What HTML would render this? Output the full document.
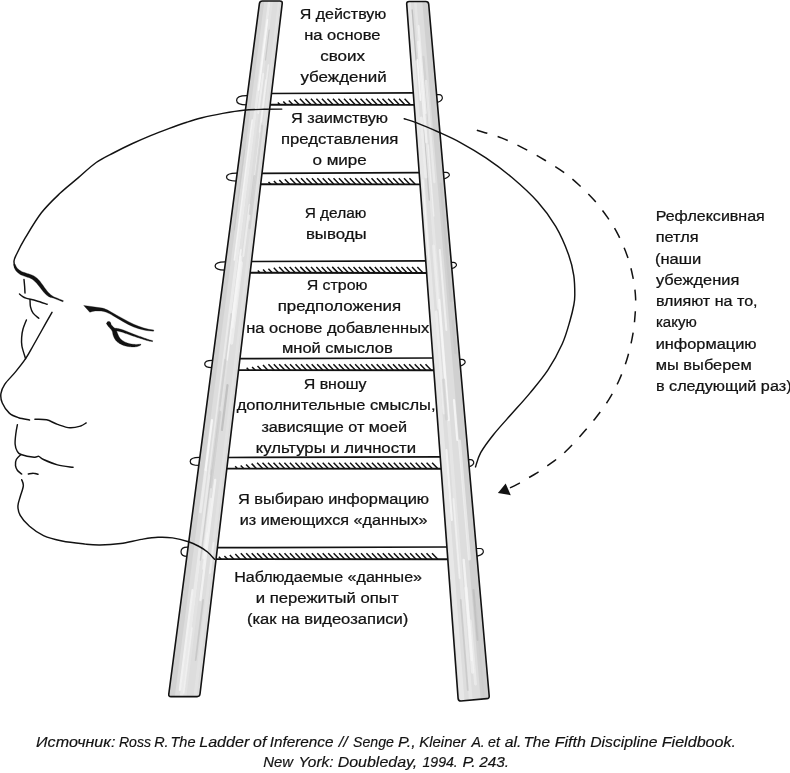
<!DOCTYPE html>
<html lang="ru"><head><meta charset="utf-8"><title>Лестница умозаключений</title>
<style>
html,body{margin:0;padding:0;background:#fff;}
body{width:790px;height:773px;overflow:hidden;}
svg{display:block;will-change:transform;}
.t{font-family:"Liberation Sans",sans-serif;font-size:15.2px;fill:#121212;stroke:#121212;stroke-width:0.24px;}
.c{font-family:"Liberation Sans",sans-serif;font-size:15.2px;font-style:italic;fill:#121212;stroke:#121212;stroke-width:0.18px;}
.ln{fill:none;stroke:#121212;stroke-width:1.45;stroke-linecap:round;stroke-linejoin:round;}
</style></head>
<body>
<svg width="790" height="773" viewBox="0 0 790 773">
<rect width="790" height="773" fill="#fff"/>
<defs><clipPath id="cl"><path d="M262.4 1.0 H279.9 Q282.5 1.0 282.2 3.6 L200.0 694.0 Q199.7 696.6 197.1 696.6 L171.0 696.6 Q168.4 696.6 168.8 694.0 L259.4 3.6 Q259.8 1.0 262.4 1.0 Z"/></clipPath><clipPath id="cr"><path d="M409.1 1.5 H425.8 Q428.4 1.5 428.7 4.1 L489.2 696.0 Q489.4 698.6 486.8 698.6 L460.9 701.0 Q458.3 701.0 458.1 698.4 L406.7 4.1 Q406.5 1.5 409.1 1.5 Z"/></clipPath></defs>
<g id="ladder">
<path class="ln" style="stroke-width:1.25" d="M248.7 95.6 H246.7 C239.4 95.6 236.6 97.2 236.6 100.2 C236.6 103.2 239.4 104.8 246.7 104.8 H248.7"/>
<path class="ln" style="stroke-width:1.25" d="M238.6 173.0 H236.6 C229.3 173.0 226.5 174.4 226.5 177.0 C226.5 179.6 229.3 181.0 236.6 181.0 H238.6"/>
<path class="ln" style="stroke-width:1.25" d="M227.0 261.9 H225.0 C217.9 261.9 215.1 263.3 215.1 266.1 C215.1 268.8 217.9 270.2 225.0 270.2 H227.0"/>
<path class="ln" style="stroke-width:1.25" d="M214.1 360.4 H212.1 C206.8 360.4 204.7 361.6 204.7 364.0 C204.7 366.4 206.8 367.6 212.1 367.6 H214.1"/>
<path class="ln" style="stroke-width:1.25" d="M201.3 457.4 H199.3 C192.7 457.4 190.2 458.8 190.2 461.4 C190.2 464.0 192.7 465.4 199.3 465.4 H201.3"/>
<path class="ln" style="stroke-width:1.25" d="M189.4 547.0 H187.4 C182.8 547.0 181.0 548.6 181.0 551.7 C181.0 554.8 182.8 556.4 187.4 556.4 H189.4"/>
<path class="ln" style="stroke-width:1.2" d="M434.9 94.7 H439.1 C441.5 94.7 442.6 96.5 442.3 98.6 C441.7 100.5 438.8 102.3 434.9 103.1"/>
<path class="ln" style="stroke-width:1.2" d="M441.7 172.4 H446.1 C448.5 172.4 449.6 174.2 449.3 175.6 C448.7 176.9 445.8 178.7 441.7 179.5"/>
<path class="ln" style="stroke-width:1.2" d="M449.5 262.4 H453.2 C455.6 262.4 456.7 264.2 456.4 265.5 C455.8 266.7 452.9 268.5 449.5 269.3"/>
<path class="ln" style="stroke-width:1.2" d="M458.0 359.4 H461.9 C464.3 359.4 465.4 361.2 465.1 362.8 C464.5 364.1 461.6 365.9 458.0 366.7"/>
<path class="ln" style="stroke-width:1.2" d="M466.8 459.7 H470.5 C472.9 459.7 474.0 461.5 473.7 463.3 C473.1 464.9 470.2 466.7 466.8 467.5"/>
<path class="ln" style="stroke-width:1.2" d="M474.6 548.5 H480.1 C482.5 548.5 483.6 550.3 483.3 552.2 C482.7 554.0 479.8 555.8 474.6 556.6"/>
<path d="M269.8 93.5 L414.7 92.8" stroke="#121212" stroke-width="1.7" fill="none"/>
<path d="M269.8 104.7 L414.7 104.9" stroke="#121212" stroke-width="1.9" fill="none"/>
<path d="M277.8 102.4 L280.1 104.8 M283.3 101.5 L286.5 104.8 M288.8 100.6 L292.9 104.8 M294.3 99.7 L299.3 104.8 M299.9 98.8 L305.7 104.8 M305.4 98.8 L311.2 104.8 M310.9 98.8 L316.7 104.8 M316.4 98.8 L322.2 104.8 M321.9 98.8 L327.7 104.8 M327.4 98.8 L333.2 104.8 M332.9 98.8 L338.8 104.8 M338.4 98.8 L344.3 104.8 M344.0 98.8 L349.8 104.8 M349.5 98.8 L355.3 104.8 M355.0 98.8 L360.8 104.8 M360.5 98.8 L366.3 104.8 M366.0 98.8 L371.8 104.8 M371.5 98.8 L377.3 104.8 M377.0 98.8 L382.9 104.8 M382.5 98.8 L388.4 104.8 M388.1 98.8 L393.9 104.8 M393.6 98.8 L399.4 104.8 M399.1 98.8 L404.9 104.8 M404.6 98.8 L410.4 104.8" stroke="#121212" stroke-width="1.5" fill="none"/>
<path d="M260.3 173.3 L420.6 172.6" stroke="#121212" stroke-width="1.7" fill="none"/>
<path d="M260.3 184.2 L420.6 184.4" stroke="#121212" stroke-width="1.9" fill="none"/>
<path d="M268.5 181.9 L270.8 184.3 M273.9 181.0 L277.1 184.3 M279.3 180.1 L283.4 184.3 M284.8 179.2 L289.7 184.3 M290.2 178.3 L296.0 184.3 M295.6 178.3 L301.4 184.3 M301.0 178.3 L306.8 184.3 M306.4 178.3 L312.3 184.3 M311.9 178.3 L317.7 184.3 M317.3 178.3 L323.1 184.3 M322.7 178.3 L328.5 184.3 M328.1 178.3 L333.9 184.3 M333.5 178.3 L339.4 184.3 M338.9 178.3 L344.8 184.3 M344.4 178.3 L350.2 184.3 M349.8 178.3 L355.6 184.3 M355.2 178.3 L361.0 184.3 M360.6 178.3 L366.4 184.3 M366.0 178.3 L371.9 184.3 M371.5 178.3 L377.3 184.3 M376.9 178.3 L382.7 184.3 M382.3 178.3 L388.1 184.3 M387.7 178.3 L393.5 184.3 M393.1 178.3 L399.0 184.3 M398.6 178.3 L404.4 184.3 M404.0 178.3 L409.8 184.3 M409.4 178.3 L415.2 184.3" stroke="#121212" stroke-width="1.5" fill="none"/>
<path d="M249.8 261.5 L427.2 260.8" stroke="#121212" stroke-width="1.7" fill="none"/>
<path d="M249.8 272.8 L427.2 273.0" stroke="#121212" stroke-width="1.9" fill="none"/>
<path d="M257.8 270.5 L260.1 272.9 M263.1 269.6 L266.3 272.9 M268.4 268.7 L272.5 272.9 M273.8 267.8 L278.7 272.9 M279.1 266.9 L284.9 272.9 M284.4 266.9 L290.2 272.9 M289.7 266.9 L295.5 272.9 M295.0 266.9 L300.8 272.9 M300.3 266.9 L306.2 272.9 M305.6 266.9 L311.5 272.9 M311.0 266.9 L316.8 272.9 M316.3 266.9 L322.1 272.9 M321.6 266.9 L327.4 272.9 M326.9 266.9 L332.7 272.9 M332.2 266.9 L338.1 272.9 M337.6 266.9 L343.4 272.9 M342.9 266.9 L348.7 272.9 M348.2 266.9 L354.0 272.9 M353.5 266.9 L359.3 272.9 M358.8 266.9 L364.6 272.9 M364.1 266.9 L370.0 272.9 M369.4 266.9 L375.3 272.9 M374.8 266.9 L380.6 272.9 M380.1 266.9 L385.9 272.9 M385.4 266.9 L391.2 272.9 M390.7 266.9 L396.5 272.9 M396.0 266.9 L401.9 272.9 M401.4 266.9 L407.2 272.9 M406.7 266.9 L412.5 272.9 M412.0 266.9 L417.8 272.9 M417.3 266.9 L423.1 272.9" stroke="#121212" stroke-width="1.5" fill="none"/>
<path d="M238.2 358.7 L434.4 358.0" stroke="#121212" stroke-width="1.7" fill="none"/>
<path d="M238.2 370.1 L434.4 370.3" stroke="#121212" stroke-width="1.9" fill="none"/>
<path d="M246.7 367.8 L249.0 370.2 M252.1 366.9 L255.3 370.2 M257.5 366.0 L261.6 370.2 M263.0 365.1 L267.9 370.2 M268.4 364.2 L274.2 370.2 M273.8 364.2 L279.6 370.2 M279.2 364.2 L285.0 370.2 M284.6 364.2 L290.4 370.2 M290.0 364.2 L295.9 370.2 M295.5 364.2 L301.3 370.2 M300.9 364.2 L306.7 370.2 M306.3 364.2 L312.1 370.2 M311.7 364.2 L317.5 370.2 M317.1 364.2 L323.0 370.2 M322.6 364.2 L328.4 370.2 M328.0 364.2 L333.8 370.2 M333.4 364.2 L339.2 370.2 M338.8 364.2 L344.6 370.2 M344.2 364.2 L350.0 370.2 M349.6 364.2 L355.5 370.2 M355.1 364.2 L360.9 370.2 M360.5 364.2 L366.3 370.2 M365.9 364.2 L371.7 370.2 M371.3 364.2 L377.1 370.2 M376.7 364.2 L382.6 370.2 M382.2 364.2 L388.0 370.2 M387.6 364.2 L393.4 370.2 M393.0 364.2 L398.8 370.2 M398.4 364.2 L404.2 370.2 M403.8 364.2 L409.6 370.2 M409.2 364.2 L415.1 370.2 M414.7 364.2 L420.5 370.2 M420.1 364.2 L425.9 370.2 M425.5 364.2 L431.3 370.2" stroke="#121212" stroke-width="1.5" fill="none"/>
<path d="M226.5 457.5 L441.7 456.8" stroke="#121212" stroke-width="1.7" fill="none"/>
<path d="M226.5 468.6 L441.7 468.8" stroke="#121212" stroke-width="1.9" fill="none"/>
<path d="M235.2 466.3 L237.5 468.7 M240.7 465.4 L243.9 468.7 M246.1 464.5 L250.2 468.7 M251.6 463.6 L256.6 468.7 M257.1 462.7 L262.9 468.7 M262.5 462.7 L268.4 468.7 M268.0 462.7 L273.8 468.7 M273.5 462.7 L279.3 468.7 M279.0 462.7 L284.8 468.7 M284.4 462.7 L290.2 468.7 M289.9 462.7 L295.7 468.7 M295.4 462.7 L301.2 468.7 M300.8 462.7 L306.7 468.7 M306.3 462.7 L312.1 468.7 M311.8 462.7 L317.6 468.7 M317.2 462.7 L323.1 468.7 M322.7 462.7 L328.5 468.7 M328.2 462.7 L334.0 468.7 M333.6 462.7 L339.5 468.7 M339.1 462.7 L344.9 468.7 M344.6 462.7 L350.4 468.7 M350.1 462.7 L355.9 468.7 M355.5 462.7 L361.3 468.7 M361.0 462.7 L366.8 468.7 M366.5 462.7 L372.3 468.7 M371.9 462.7 L377.8 468.7 M377.4 462.7 L383.2 468.7 M382.9 462.7 L388.7 468.7 M388.3 462.7 L394.2 468.7 M393.8 462.7 L399.6 468.7 M399.3 462.7 L405.1 468.7 M404.8 462.7 L410.6 468.7 M410.2 462.7 L416.0 468.7 M415.7 462.7 L421.5 468.7 M421.2 462.7 L427.0 468.7 M426.6 462.7 L432.5 468.7 M432.1 462.7 L437.9 468.7" stroke="#121212" stroke-width="1.5" fill="none"/>
<path d="M215.8 547.7 L448.3 547.0" stroke="#121212" stroke-width="1.7" fill="none"/>
<path d="M215.8 559.1 L448.3 559.3" stroke="#121212" stroke-width="1.9" fill="none"/>
<path d="M218.9 556.8 L221.2 559.2 M224.4 555.9 L227.6 559.2 M229.8 555.0 L233.9 559.2 M235.3 554.1 L240.2 559.2 M240.8 553.2 L246.6 559.2 M246.2 553.2 L252.0 559.2 M251.7 553.2 L257.5 559.2 M257.1 553.2 L263.0 559.2 M262.6 553.2 L268.4 559.2 M268.1 553.2 L273.9 559.2 M273.5 553.2 L279.4 559.2 M279.0 553.2 L284.8 559.2 M284.5 553.2 L290.3 559.2 M289.9 553.2 L295.8 559.2 M295.4 553.2 L301.2 559.2 M300.9 553.2 L306.7 559.2 M306.3 553.2 L312.1 559.2 M311.8 553.2 L317.6 559.2 M317.3 553.2 L323.1 559.2 M322.7 553.2 L328.5 559.2 M328.2 553.2 L334.0 559.2 M333.6 553.2 L339.5 559.2 M339.1 553.2 L344.9 559.2 M344.6 553.2 L350.4 559.2 M350.0 553.2 L355.9 559.2 M355.5 553.2 L361.3 559.2 M361.0 553.2 L366.8 559.2 M366.4 553.2 L372.3 559.2 M371.9 553.2 L377.7 559.2 M377.4 553.2 L383.2 559.2 M382.8 553.2 L388.6 559.2 M388.3 553.2 L394.1 559.2 M393.8 553.2 L399.6 559.2 M399.2 553.2 L405.0 559.2 M404.7 553.2 L410.5 559.2 M410.1 553.2 L416.0 559.2 M415.6 553.2 L421.4 559.2 M421.1 553.2 L426.9 559.2 M426.5 553.2 L432.4 559.2 M432.0 553.2 L437.8 559.2" stroke="#121212" stroke-width="1.5" fill="none"/>
<path d="M262.4 1.0 H279.9 Q282.5 1.0 282.2 3.6 L200.0 694.0 Q199.7 696.6 197.1 696.6 L171.0 696.6 Q168.4 696.6 168.8 694.0 L259.4 3.6 Q259.8 1.0 262.4 1.0 Z" fill="#dddddd"/>
<g clip-path="url(#cl)">
<path d="M259.9 0 L264.4 0 L174.3 700 L168.0 700 Z" fill="#d0d0d0" opacity="0.9"/>
<path d="M268.1 0 L270.8 0 L183.0 700 L179.3 700 Z" fill="#ebebeb" opacity="0.9"/>
<path d="M270.8 0 L273.1 0 L186.1 700 L183.0 700 Z" fill="#e2e2e2" opacity="0.9"/>
<path d="M278.1 0 L280.3 0 L196.2 700 L193.0 700 Z" fill="#e4e4e4" opacity="0.8"/>
<path d="M267.4 20 L258.6 90" stroke="#f8f8f8" stroke-width="1.8" stroke-linecap="round" opacity="0.85" fill="none"/>
<path d="M252.2 120 L234.4 260" stroke="#f6f6f6" stroke-width="1.7" stroke-linecap="round" opacity="0.85" fill="none"/>
<path d="M227.5 385 L221.9 430" stroke="#bcbcbc" stroke-width="2.2" stroke-linecap="round" opacity="0.85" fill="none"/>
<path d="M212.0 420 L205.6 470" stroke="#fafafa" stroke-width="2.2" stroke-linecap="round" opacity="0.85" fill="none"/>
<path d="M240.9 250 L227.1 360" stroke="#f6f6f6" stroke-width="1.8" stroke-linecap="round" opacity="0.85" fill="none"/>
<path d="M211.7 470 L200.4 560" stroke="#c8c8c8" stroke-width="1.4" stroke-linecap="round" opacity="0.85" fill="none"/>
<path d="M215.2 480 L200.4 600" stroke="#f4f4f4" stroke-width="2.3" stroke-linecap="round" opacity="0.85" fill="none"/>
<path d="M192.5 590 L179.8 690" stroke="#f4f4f4" stroke-width="2.1" stroke-linecap="round" opacity="0.85" fill="none"/>
<path d="M269.2 30 L265.5 60" stroke="#c4c4c4" stroke-width="1.2" stroke-linecap="round" opacity="0.85" fill="none"/>
<path d="M203.1 600 L195.7 660" stroke="#c6c6c6" stroke-width="1.8" stroke-linecap="round" opacity="0.85" fill="none"/>
<path d="M244.5 150 L234.2 230" stroke="#c8c8c8" stroke-width="1.2" stroke-linecap="round" opacity="0.85" fill="none"/>
<path d="M260.6 130 L249.6 220" stroke="#f2f2f2" stroke-width="1.5" stroke-linecap="round" opacity="0.85" fill="none"/>
<path d="M225.2 360 L210.9 474" stroke="#cccccc" stroke-width="2.3" stroke-linecap="round" opacity="0.6" fill="none"/>
<path d="M262.1 126 L249.6 228" stroke="#cccccc" stroke-width="2.4" stroke-linecap="round" opacity="0.6" fill="none"/>
<path d="M268.4 65 L261.4 122" stroke="#f7f7f7" stroke-width="1.6" stroke-linecap="round" opacity="0.6" fill="none"/>
<path d="M241.0 257 L232.2 327" stroke="#f7f7f7" stroke-width="2.9" stroke-linecap="round" opacity="0.6" fill="none"/>
<path d="M207.3 533 L202.8 569" stroke="#f7f7f7" stroke-width="1.5" stroke-linecap="round" opacity="0.6" fill="none"/>
<path d="M211.0 499 L203.6 558" stroke="#f7f7f7" stroke-width="2.6" stroke-linecap="round" opacity="0.6" fill="none"/>
<path d="M220.1 412 L210.8 487" stroke="#c6c6c6" stroke-width="2.7" stroke-linecap="round" opacity="0.6" fill="none"/>
<path d="M241.3 263 L231.5 343" stroke="#f7f7f7" stroke-width="3.3" stroke-linecap="round" opacity="0.6" fill="none"/>
<path d="M249.6 205 L243.3 256" stroke="#f7f7f7" stroke-width="2.0" stroke-linecap="round" opacity="0.6" fill="none"/>
<path d="M263.2 74 L258.2 113" stroke="#f7f7f7" stroke-width="2.0" stroke-linecap="round" opacity="0.6" fill="none"/>
<path d="M213.5 543 L209.9 573" stroke="#f7f7f7" stroke-width="1.8" stroke-linecap="round" opacity="0.6" fill="none"/>
<path d="M192.0 628 L183.8 693" stroke="#f7f7f7" stroke-width="1.5" stroke-linecap="round" opacity="0.6" fill="none"/>
<path d="M254.4 176 L249.8 214" stroke="#c6c6c6" stroke-width="2.1" stroke-linecap="round" opacity="0.6" fill="none"/>
<path d="M265.9 80 L259.5 132" stroke="#f7f7f7" stroke-width="1.6" stroke-linecap="round" opacity="0.6" fill="none"/>
<path d="M231.2 314 L219.8 406" stroke="#cccccc" stroke-width="1.8" stroke-linecap="round" opacity="0.6" fill="none"/>
<path d="M205.8 470 L200.4 512" stroke="#f7f7f7" stroke-width="2.7" stroke-linecap="round" opacity="0.6" fill="none"/>
</g>
<path d="M262.4 1.0 H279.9 Q282.5 1.0 282.2 3.6 L200.0 694.0 Q199.7 696.6 197.1 696.6 L171.0 696.6 Q168.4 696.6 168.8 694.0 L259.4 3.6 Q259.8 1.0 262.4 1.0 Z" fill="none" stroke="#121212" stroke-width="1.6" stroke-linejoin="round"/>
<path d="M409.1 1.5 H425.8 Q428.4 1.5 428.7 4.1 L489.2 696.0 Q489.4 698.6 486.8 698.6 L460.9 701.0 Q458.3 701.0 458.1 698.4 L406.7 4.1 Q406.5 1.5 409.1 1.5 Z" fill="#dddddd"/>
<g clip-path="url(#cr)">
<path d="M407.5 0 L410.8 0 L464.6 702 L459.9 702 Z" fill="#e8e8e8" opacity="0.9"/>
<path d="M413.8 0 L416.5 0 L472.8 702 L469.0 702 Z" fill="#e6e6e6" opacity="0.9"/>
<path d="M422.2 0 L428.3 0 L489.7 702 L480.9 702 Z" fill="#cecece" opacity="0.9"/>
<path d="M412.2 10 L416.1 60" stroke="#b8b8b8" stroke-width="1.3" stroke-linecap="round" opacity="0.85" fill="none"/>
<path d="M417.4 60 L420.5 100" stroke="#f8f8f8" stroke-width="1.8" stroke-linecap="round" opacity="0.85" fill="none"/>
<path d="M423.8 130 L429.3 200" stroke="#c2c2c2" stroke-width="1.4" stroke-linecap="round" opacity="0.85" fill="none"/>
<path d="M439.1 300 L448.6 420" stroke="#f8f8f8" stroke-width="2.3" stroke-linecap="round" opacity="0.85" fill="none"/>
<path d="M439.8 250 L446.4 330" stroke="#f2f2f2" stroke-width="2.0" stroke-linecap="round" opacity="0.85" fill="none"/>
<path d="M454.0 400 L457.3 440" stroke="#f8f8f8" stroke-width="2.2" stroke-linecap="round" opacity="0.85" fill="none"/>
<path d="M446.4 450 L451.8 520" stroke="#f6f6f6" stroke-width="2.2" stroke-linecap="round" opacity="0.85" fill="none"/>
<path d="M463.7 560 L471.9 660" stroke="#f6f6f6" stroke-width="2.4" stroke-linecap="round" opacity="0.85" fill="none"/>
<path d="M473.5 590 L477.7 640" stroke="#bebebe" stroke-width="2.1" stroke-linecap="round" opacity="0.85" fill="none"/>
<path d="M460.7 600 L467.8 690" stroke="#c8c8c8" stroke-width="1.8" stroke-linecap="round" opacity="0.85" fill="none"/>
<path d="M422.9 180 L428.9 260" stroke="#f4f4f4" stroke-width="1.5" stroke-linecap="round" opacity="0.85" fill="none"/>
<path d="M476.1 607 L485.5 718" stroke="#cccccc" stroke-width="1.6" stroke-linecap="round" opacity="0.6" fill="none"/>
<path d="M433.5 246 L438.4 308" stroke="#f2f2f2" stroke-width="2.9" stroke-linecap="round" opacity="0.6" fill="none"/>
<path d="M428.1 145 L433.8 216" stroke="#f7f7f7" stroke-width="1.4" stroke-linecap="round" opacity="0.6" fill="none"/>
<path d="M452.9 321 L455.6 353" stroke="#c6c6c6" stroke-width="2.7" stroke-linecap="round" opacity="0.6" fill="none"/>
<path d="M418.3 42 L426.3 142" stroke="#f7f7f7" stroke-width="2.6" stroke-linecap="round" opacity="0.6" fill="none"/>
<path d="M470.3 621 L475.5 684" stroke="#f2f2f2" stroke-width="2.9" stroke-linecap="round" opacity="0.6" fill="none"/>
<path d="M440.9 184 L450.9 301" stroke="#c6c6c6" stroke-width="2.5" stroke-linecap="round" opacity="0.6" fill="none"/>
<path d="M436.1 312 L444.0 413" stroke="#f7f7f7" stroke-width="2.8" stroke-linecap="round" opacity="0.6" fill="none"/>
<path d="M421.2 118 L425.8 177" stroke="#f7f7f7" stroke-width="3.0" stroke-linecap="round" opacity="0.6" fill="none"/>
<path d="M423.4 57 L429.0 126" stroke="#cccccc" stroke-width="2.5" stroke-linecap="round" opacity="0.6" fill="none"/>
<path d="M443.5 380 L446.6 419" stroke="#cccccc" stroke-width="3.2" stroke-linecap="round" opacity="0.6" fill="none"/>
<path d="M453.4 499 L459.6 578" stroke="#f7f7f7" stroke-width="1.9" stroke-linecap="round" opacity="0.6" fill="none"/>
<path d="M426.0 81 L434.3 182" stroke="#f2f2f2" stroke-width="2.4" stroke-linecap="round" opacity="0.6" fill="none"/>
<path d="M465.9 588 L472.7 672" stroke="#f7f7f7" stroke-width="3.3" stroke-linecap="round" opacity="0.6" fill="none"/>
<path d="M418.6 26 L425.6 113" stroke="#f7f7f7" stroke-width="2.2" stroke-linecap="round" opacity="0.6" fill="none"/>
<path d="M459.5 441 L469.4 559" stroke="#f7f7f7" stroke-width="3.0" stroke-linecap="round" opacity="0.6" fill="none"/>
</g>
<path d="M409.1 1.5 H425.8 Q428.4 1.5 428.7 4.1 L489.2 696.0 Q489.4 698.6 486.8 698.6 L460.9 701.0 Q458.3 701.0 458.1 698.4 L406.7 4.1 Q406.5 1.5 409.1 1.5 Z" fill="none" stroke="#121212" stroke-width="1.6" stroke-linejoin="round"/>
</g>
<g id="head">
<path class="ln" d="M281.8 109.1 C278.9 109.1 270.6 109.1 264.2 109.3 C257.8 109.5 250.4 109.6 243.5 110.3 C236.6 111.0 229.7 112.2 222.8 113.4 C215.9 114.7 208.1 116.3 202.1 117.8 C196.1 119.3 192.4 120.5 186.8 122.3 C181.2 124.1 174.7 126.4 168.7 128.6 C162.7 130.8 156.6 133.1 150.6 135.6 C144.6 138.1 138.6 140.7 132.5 143.5 C126.5 146.3 120.3 149.3 114.3 152.5 C108.2 155.7 102.2 158.3 96.2 162.5 C90.2 166.7 84.1 172.8 78.1 177.9 C72.1 183.0 66.1 187.5 60.0 193.3 C53.9 199.1 47.3 205.2 41.4 212.8 C35.5 220.4 29.0 231.7 24.8 238.7 C20.6 245.7 18.1 251.1 16.3 254.8 C14.5 258.5 14.2 258.9 14.0 261.0 C13.8 263.1 14.7 266.2 14.8 267.3"/>
<path class="ln" d="M24.0 279.5 C24.1 280.6 24.4 283.8 24.6 286.0 C24.8 288.2 24.9 291.8 25.0 293.0"/>
<path class="ln" d="M19.5 294.0 C20.0 294.4 21.4 295.7 22.5 296.4 C23.6 297.1 23.6 297.4 25.9 298.1 C28.2 298.8 32.7 299.7 36.2 300.7 C39.7 301.7 45.3 303.7 47.1 304.3"/>
<path class="ln" d="M30.0 299.7 C30.1 300.9 30.0 304.7 30.5 306.9 C31.0 309.1 31.7 311.2 33.1 313.1 C34.5 315.0 37.8 317.4 38.8 318.3"/>
<path class="ln" d="M26.4 320.0 C25.8 321.5 23.8 326.2 23.0 329.0 C22.2 331.8 21.9 334.2 21.7 337.0 C21.5 339.8 21.2 342.4 21.9 346.0 C22.5 349.6 25.0 356.6 25.6 358.7"/>
<path class="ln" d="M52.0 312.3 C50.3 315.2 45.2 324.4 42.0 330.0 C38.8 335.6 35.7 341.2 33.0 346.0 C30.3 350.8 28.5 354.4 25.6 358.7 C22.7 363.0 19.0 367.6 15.5 371.9 C12.0 376.2 7.1 380.7 4.7 384.3 C2.3 387.9 1.3 390.6 0.9 393.7 C0.5 396.8 0.9 399.8 2.3 403.0 C3.7 406.2 6.6 410.7 9.3 413.1 C12.0 415.6 15.2 416.6 18.6 417.7 C22.0 418.8 27.7 419.6 29.5 420.0"/>
<path class="ln" d="M34.9 419.3 C36.9 419.4 42.8 419.0 46.6 419.8 C50.4 420.6 53.6 423.1 57.5 424.4 C61.4 425.7 66.0 427.5 69.9 427.8 C73.8 428.1 78.0 426.8 80.7 426.0 C83.4 425.2 85.3 423.4 86.2 422.9"/>
<path class="ln" d="M17.4 424.7 C17.1 426.2 16.2 430.8 15.8 434.0 C15.4 437.2 14.9 441.2 15.1 444.0 C15.3 446.8 16.1 449.2 17.1 451.0 C18.1 452.8 18.1 453.5 21.0 454.5 C23.9 455.5 31.2 456.9 34.2 457.2 C37.2 457.5 37.2 456.0 38.8 456.4 C40.3 456.8 40.4 458.1 43.5 459.5 C46.6 460.9 52.6 463.6 57.5 464.9 C62.4 466.2 70.4 466.9 73.0 467.3"/>
<path class="ln" d="M21.0 454.5 C20.2 455.3 17.2 457.6 16.3 459.5 C15.4 461.4 15.3 463.9 15.5 465.7 C15.7 467.5 16.5 469.1 17.5 470.5 C18.5 471.9 21.0 473.4 21.7 474.0"/>
<path class="ln" d="M28.3 474.0 C29.1 473.9 31.8 473.1 33.4 473.2 C35.0 473.2 37.2 474.1 38.0 474.3"/>
<path class="ln" d="M21.7 479.7 C22.0 480.7 23.6 483.0 23.3 485.9 C23.1 488.8 21.1 493.4 20.2 496.8 C19.3 500.2 17.9 503.0 17.9 506.1 C17.9 509.2 18.3 512.0 20.2 515.4 C22.1 518.8 25.6 522.9 29.5 526.3 C33.4 529.7 38.1 533.1 43.5 535.6 C48.9 538.1 55.1 539.6 62.1 541.0 C69.1 542.4 79.1 543.4 85.4 544.1 C91.7 544.8 94.1 545.1 100.0 545.0 C105.9 544.9 113.8 544.4 120.7 543.5 C127.6 542.6 135.2 540.4 141.4 539.4 C147.6 538.4 152.8 537.5 158.0 537.3 C163.2 537.0 167.4 537.2 172.5 537.9 C177.6 538.6 184.1 540.3 188.5 541.7 C192.9 543.1 196.0 544.8 199.2 546.5 C202.4 548.2 204.9 549.9 207.5 552.0 C210.1 554.1 213.4 558.1 214.6 559.3"/>
<path class="ln" d="M404.2 118.7 C406.3 119.4 410.9 120.6 416.8 122.9 C422.7 125.2 432.3 129.3 439.5 132.5 C446.7 135.7 452.3 138.1 460.0 142.3 C467.7 146.5 477.3 152.1 485.9 157.9 C494.5 163.7 503.1 170.0 511.7 177.3 C520.3 184.6 530.3 193.6 537.6 201.8 C544.9 210.0 550.5 217.6 555.7 226.4 C560.9 235.2 565.7 246.7 568.7 254.9 C571.7 263.1 572.8 268.9 573.8 275.6 C574.8 282.3 574.8 290.1 574.8 295.0 C574.8 299.9 574.6 300.7 573.8 305.0 C573.0 309.3 571.9 314.2 570.0 320.7 C568.1 327.2 565.9 335.8 562.2 344.0 C558.5 352.2 553.4 361.7 548.0 369.9 C542.6 378.1 535.9 385.8 529.9 393.1 C523.9 400.4 517.8 406.9 511.7 413.8 C505.6 420.7 498.8 428.0 493.6 434.5 C488.4 441.0 483.7 447.3 480.7 452.7 C477.7 458.1 476.4 464.5 475.5 466.9"/>
<path d="M476.8 130.2 C480.9 131.5 493.4 134.8 501.4 137.9 C509.4 141.0 517.4 145.0 524.7 148.8 C532.0 152.6 538.9 156.6 545.4 160.5 C551.9 164.4 557.9 168.0 563.5 172.1 C569.1 176.2 573.8 180.2 579.0 185.0 C584.2 189.8 589.8 195.2 594.5 200.6 C599.2 206.0 603.6 211.8 607.5 217.4 C611.4 223.0 614.6 227.9 617.8 234.2 C621.0 240.4 624.4 248.0 626.9 254.9 C629.4 261.8 631.1 268.4 632.6 275.6 C634.1 282.8 635.3 290.5 635.6 298.0 C635.9 305.5 635.2 313.9 634.6 320.7 C634.0 327.5 633.3 332.3 632.0 338.8 C630.7 345.3 629.0 352.6 626.9 359.5 C624.8 366.4 622.1 373.5 619.1 380.2 C616.1 386.9 612.7 393.4 608.8 399.6 C604.9 405.9 600.3 411.9 595.8 417.7 C591.3 423.5 586.5 428.9 581.6 434.5 C576.7 440.1 570.7 446.6 566.1 451.0 C561.5 455.4 557.8 458.2 554.3 460.9 C550.8 463.6 548.3 465.1 545.4 467.2 C542.5 469.2 539.6 471.3 536.6 473.2 C533.6 475.1 530.3 476.8 527.1 478.6 C523.9 480.4 520.9 482.4 517.6 484.1 C514.3 485.8 509.2 488.2 507.5 489.0" fill="none" stroke="#121212" stroke-width="1.5" stroke-dasharray="11 10.65"/>
<path d="M497.9 493.0 L505.7 483.6 L510.8 495.2 Z" fill="#121212"/>
<path d="M13.64 264.44 L13.73 264.82 L13.83 265.34 L13.95 265.97 L14.10 266.69 L14.30 267.46 L14.54 268.25 L14.85 269.03 L15.25 269.76 L15.70 270.42 L16.20 271.04 L16.74 271.64 L17.32 272.22 L17.93 272.76 L18.56 273.28 L19.20 273.76 L19.86 274.22 L20.55 274.64 L21.28 275.00 L22.01 275.32 L22.73 275.60 L23.44 275.85 L24.12 276.09 L24.78 276.31 L25.42 276.55 L26.08 276.79 L26.76 277.02 L27.42 277.23 L28.06 277.43 L28.66 277.62 L29.23 277.82 L29.76 278.02 L30.27 278.24 L30.76 278.49 L31.24 278.75 L31.71 279.01 L32.15 279.29 L32.59 279.58 L33.01 279.87 L33.42 280.18 L33.83 280.49 L34.21 280.82 L34.59 281.15 L34.96 281.51 L35.33 281.88 L35.70 282.27 L36.08 282.68 L36.47 283.11 L36.87 283.55 L37.25 283.99 L37.64 284.45 L38.04 284.93 L38.44 285.43 L38.85 285.94 L39.26 286.46 L39.66 286.98 L40.07 287.49 L40.45 287.98 L40.83 288.47 L41.22 288.98 L41.60 289.48 L41.99 289.99 L42.38 290.49 L42.77 290.98 L43.17 291.46 L43.57 291.93 L43.97 292.38 L44.37 292.84 L44.77 293.28 L45.18 293.72 L45.59 294.14 L46.01 294.54 L46.43 294.92 L46.86 295.28 L47.28 295.61 L47.69 295.92 L48.11 296.20 L48.52 296.46 L48.92 296.70 L49.32 296.91 L49.72 297.11 L50.11 297.27 L50.47 297.39 L50.82 297.48 L51.17 297.54 L51.51 297.60 L51.86 297.67 L52.26 297.76 L52.71 297.89 L53.24 298.07 L53.82 298.28 L54.44 298.52 L55.09 298.77 L55.76 299.03 L56.44 299.29 L57.11 299.55 L57.76 299.80 L58.44 300.07 L59.17 300.35 L59.93 300.65 L60.68 300.95 L61.39 301.23 L62.03 301.48 L62.57 301.70 L62.98 301.86 L63.42 300.74 L63.02 300.58 L62.49 300.36 L61.85 300.09 L61.14 299.80 L60.40 299.49 L59.64 299.18 L58.92 298.88 L58.24 298.60 L57.59 298.33 L56.92 298.06 L56.25 297.79 L55.58 297.52 L54.94 297.26 L54.34 297.00 L53.78 296.75 L53.29 296.51 L52.87 296.28 L52.51 296.07 L52.22 295.87 L51.97 295.68 L51.76 295.50 L51.56 295.31 L51.34 295.11 L51.08 294.89 L50.78 294.65 L50.47 294.40 L50.16 294.14 L49.84 293.87 L49.52 293.60 L49.20 293.31 L48.88 293.00 L48.57 292.68 L48.25 292.33 L47.92 291.96 L47.58 291.56 L47.24 291.14 L46.89 290.71 L46.54 290.26 L46.18 289.80 L45.83 289.34 L45.48 288.87 L45.13 288.40 L44.78 287.91 L44.43 287.41 L44.06 286.89 L43.69 286.37 L43.32 285.84 L42.93 285.31 L42.56 284.79 L42.18 284.27 L41.79 283.73 L41.39 283.18 L40.99 282.63 L40.58 282.09 L40.16 281.56 L39.73 281.05 L39.32 280.58 L38.91 280.12 L38.50 279.66 L38.07 279.21 L37.63 278.77 L37.16 278.33 L36.68 277.91 L36.17 277.51 L35.66 277.13 L35.14 276.77 L34.60 276.43 L34.06 276.11 L33.50 275.80 L32.93 275.51 L32.35 275.23 L31.73 274.96 L31.09 274.69 L30.42 274.45 L29.76 274.24 L29.11 274.04 L28.46 273.84 L27.83 273.65 L27.21 273.46 L26.58 273.25 L25.91 273.02 L25.23 272.80 L24.55 272.58 L23.89 272.36 L23.26 272.14 L22.66 271.91 L22.09 271.66 L21.54 271.38 L20.98 271.06 L20.41 270.70 L19.83 270.32 L19.27 269.92 L18.73 269.50 L18.22 269.08 L17.76 268.65 L17.35 268.24 L16.99 267.80 L16.63 267.27 L16.28 266.67 L15.95 266.03 L15.65 265.41 L15.38 264.84 L15.15 264.34 L14.96 263.96 Z" fill="#121212" stroke="#121212" stroke-width="0.3" stroke-linejoin="round"/>
<path d="M83.7 305.4 L93.2 306.8 L102.3 308.1 C105 308.6 107 309.8 108.6 310.6 L118.5 316.2 L128.6 321.7 C132 323.5 135.5 325.1 138.8 326.3 C142.2 327.6 145.6 328.7 148.9 329.3 L153.9 330.1 L153.5 331.2 C150 331.1 147 330.7 143.8 330.0 C140.3 329.2 137 328.3 133.7 327.0 C130.2 325.5 126.8 323.7 123.6 321.9 L113.4 315.9 C111 314.4 108.6 313.0 106.4 312.3 C104.6 311.6 103 311.2 101.3 311.1 L95.2 310.9 C93.4 311.0 91.6 311.5 89.8 312.3 Z" fill="#121212" stroke="#121212" stroke-width="0.3" stroke-linejoin="round"/>
<path d="M106.64 323.29 L106.67 323.40 L106.71 323.54 L106.77 323.74 L106.84 323.98 L106.93 324.24 L107.04 324.53 L107.18 324.82 L107.33 325.11 L107.49 325.36 L107.66 325.60 L107.85 325.85 L108.06 326.11 L108.28 326.38 L108.52 326.66 L108.76 326.94 L109.02 327.25 L109.31 327.56 L109.60 327.86 L109.89 328.15 L110.17 328.43 L110.43 328.70 L110.68 328.97 L110.90 329.23 L111.11 329.51 L111.33 329.82 L111.55 330.14 L111.75 330.46 L111.92 330.77 L112.08 331.08 L112.21 331.37 L112.32 331.65 L112.41 331.91 L112.48 332.18 L112.54 332.49 L112.60 332.85 L112.67 333.27 L112.75 333.74 L112.85 334.25 L112.98 334.79 L113.15 335.33 L113.32 335.82 L113.50 336.30 L113.69 336.79 L113.91 337.29 L114.14 337.79 L114.39 338.29 L114.66 338.78 L114.96 339.26 L115.27 339.71 L115.59 340.13 L115.93 340.53 L116.27 340.90 L116.62 341.25 L116.98 341.59 L117.34 341.91 L117.72 342.22 L118.11 342.54 L118.52 342.84 L118.93 343.12 L119.34 343.39 L119.76 343.65 L120.17 343.89 L120.58 344.11 L120.99 344.33 L121.40 344.53 L121.81 344.73 L122.23 344.91 L122.65 345.08 L123.07 345.25 L123.50 345.40 L123.94 345.55 L124.39 345.69 L124.86 345.83 L125.34 345.96 L125.83 346.08 L126.33 346.20 L126.82 346.30 L127.31 346.40 L127.79 346.49 L128.27 346.56 L128.73 346.63 L129.18 346.69 L129.63 346.75 L130.08 346.79 L130.52 346.83 L130.97 346.86 L131.42 346.88 L131.88 346.90 L132.36 346.91 L132.85 346.92 L133.35 346.92 L133.85 346.91 L134.35 346.90 L134.83 346.88 L135.31 346.84 L135.76 346.80 L136.18 346.74 L136.59 346.67 L136.98 346.59 L137.35 346.50 L137.70 346.40 L138.04 346.30 L138.37 346.19 L138.70 346.08 L139.04 345.95 L139.38 345.80 L139.72 345.64 L140.04 345.47 L140.33 345.32 L140.58 345.18 L140.79 345.06 L140.95 344.98 L140.65 344.02 L140.46 344.05 L140.21 344.09 L139.93 344.13 L139.61 344.18 L139.28 344.22 L138.94 344.26 L138.62 344.30 L138.30 344.32 L137.99 344.34 L137.67 344.37 L137.35 344.39 L137.03 344.40 L136.70 344.41 L136.36 344.41 L136.01 344.41 L135.64 344.40 L135.25 344.38 L134.83 344.36 L134.38 344.33 L133.93 344.30 L133.46 344.26 L133.00 344.21 L132.55 344.16 L132.12 344.10 L131.70 344.04 L131.30 343.97 L130.90 343.90 L130.51 343.82 L130.12 343.74 L129.73 343.64 L129.34 343.54 L128.93 343.44 L128.52 343.32 L128.09 343.19 L127.66 343.06 L127.22 342.92 L126.80 342.77 L126.38 342.62 L125.99 342.47 L125.61 342.31 L125.25 342.15 L124.91 341.98 L124.57 341.81 L124.25 341.64 L123.94 341.46 L123.63 341.28 L123.32 341.08 L123.01 340.87 L122.69 340.65 L122.37 340.43 L122.06 340.19 L121.76 339.96 L121.47 339.72 L121.19 339.47 L120.93 339.23 L120.68 338.98 L120.44 338.71 L120.21 338.44 L119.99 338.16 L119.78 337.89 L119.58 337.61 L119.40 337.32 L119.22 337.03 L119.04 336.74 L118.87 336.43 L118.70 336.09 L118.53 335.72 L118.36 335.33 L118.18 334.91 L118.00 334.49 L117.82 334.06 L117.65 333.67 L117.51 333.32 L117.37 332.96 L117.22 332.56 L117.07 332.12 L116.90 331.64 L116.70 331.14 L116.47 330.61 L116.19 330.09 L115.88 329.61 L115.56 329.19 L115.23 328.81 L114.90 328.46 L114.58 328.15 L114.27 327.86 L113.98 327.58 L113.69 327.29 L113.38 326.98 L113.06 326.67 L112.75 326.37 L112.46 326.10 L112.19 325.84 L111.95 325.59 L111.74 325.37 L111.58 325.15 L111.43 324.93 L111.29 324.70 L111.17 324.46 L111.07 324.21 L110.97 323.97 L110.87 323.74 L110.77 323.50 L110.67 323.29 L110.58 323.12 L110.49 322.94 L110.39 322.76 L110.30 322.57 L110.20 322.39 L110.11 322.21 L110.03 322.05 L109.96 321.91 Z" fill="#121212" stroke="#121212" stroke-width="0.3" stroke-linejoin="round"/>
<circle cx="108.6" cy="323.2" r="2.0" fill="#121212"/>
<path d="M113.30 330.80 L113.53 330.80 L113.82 330.80 L114.14 330.80 L114.50 330.81 L114.87 330.82 L115.24 330.84 L115.59 330.86 L115.93 330.90 L116.27 330.94 L116.64 330.99 L117.03 331.05 L117.44 331.12 L117.86 331.19 L118.29 331.27 L118.74 331.37 L119.20 331.46 L119.66 331.57 L120.13 331.68 L120.61 331.80 L121.10 331.92 L121.61 332.06 L122.13 332.21 L122.66 332.36 L123.21 332.54 L123.78 332.72 L124.37 332.93 L124.99 333.15 L125.62 333.38 L126.26 333.62 L126.91 333.86 L127.56 334.10 L128.21 334.33 L128.85 334.56 L129.49 334.78 L130.13 335.01 L130.78 335.24 L131.42 335.47 L132.07 335.69 L132.71 335.92 L133.36 336.14 L134.00 336.36 L134.65 336.58 L135.30 336.79 L135.94 337.01 L136.58 337.22 L137.23 337.43 L137.87 337.64 L138.51 337.85 L139.14 338.06 L139.78 338.26 L140.42 338.47 L141.05 338.67 L141.68 338.87 L142.31 339.07 L142.93 339.27 L143.55 339.46 L144.16 339.65 L144.77 339.84 L145.37 340.03 L145.97 340.21 L146.57 340.39 L147.16 340.56 L147.74 340.73 L148.31 340.87 L148.90 341.01 L149.50 341.14 L150.12 341.26 L150.71 341.37 L151.26 341.47 L151.76 341.56 L152.17 341.63 L152.49 341.69 L152.71 340.71 L152.40 340.62 L152.00 340.51 L151.52 340.37 L150.98 340.22 L150.41 340.05 L149.82 339.88 L149.24 339.70 L148.69 339.53 L148.15 339.35 L147.59 339.17 L147.02 338.97 L146.44 338.77 L145.85 338.57 L145.25 338.36 L144.65 338.15 L144.05 337.94 L143.45 337.73 L142.84 337.51 L142.22 337.29 L141.60 337.06 L140.98 336.84 L140.35 336.61 L139.72 336.38 L139.09 336.15 L138.47 335.92 L137.84 335.69 L137.20 335.45 L136.57 335.22 L135.94 334.98 L135.30 334.74 L134.67 334.50 L134.04 334.26 L133.41 334.02 L132.78 333.77 L132.14 333.52 L131.51 333.27 L130.88 333.02 L130.25 332.77 L129.62 332.52 L128.99 332.27 L128.36 332.02 L127.73 331.76 L127.09 331.50 L126.45 331.23 L125.82 330.98 L125.20 330.73 L124.58 330.49 L123.99 330.26 L123.42 330.06 L122.87 329.87 L122.33 329.68 L121.81 329.51 L121.30 329.35 L120.79 329.20 L120.29 329.06 L119.80 328.94 L119.32 328.82 L118.84 328.70 L118.37 328.60 L117.90 328.51 L117.44 328.43 L116.98 328.37 L116.53 328.32 L116.07 328.30 L115.60 328.31 L115.13 328.36 L114.68 328.43 L114.26 328.52 L113.88 328.61 L113.56 328.69 L113.30 328.76 L113.10 328.80 Z" fill="#121212" stroke="#121212" stroke-width="0.3" stroke-linejoin="round"/>
</g>
<g id="labels">
<text class="t" y="18.8"><tspan x="299.70" textLength="86.60" lengthAdjust="spacingAndGlyphs">Я действую</tspan></text>
<text class="t" y="39.7"><tspan x="304.20" textLength="76.36" lengthAdjust="spacingAndGlyphs">на основе</tspan></text>
<text class="t" y="61.2"><tspan x="320.21" textLength="44.84" lengthAdjust="spacingAndGlyphs">своих</tspan></text>
<text class="t" y="82.2"><tspan x="300.45" textLength="86.34" lengthAdjust="spacingAndGlyphs">убеждений</tspan></text>
<text class="t" y="122.5"><tspan x="290.95" textLength="97.10" lengthAdjust="spacingAndGlyphs">Я заимствую</tspan></text>
<text class="t" y="143.7"><tspan x="280.94" textLength="117.36" lengthAdjust="spacingAndGlyphs">представления</tspan></text>
<text class="t" y="164.8"><tspan x="312.45" textLength="54.34" lengthAdjust="spacingAndGlyphs">о мире</tspan></text>
<text class="t" y="218.0"><tspan x="304.70" textLength="61.59" lengthAdjust="spacingAndGlyphs">Я делаю</tspan></text>
<text class="t" y="239.0"><tspan x="305.94" textLength="60.61" lengthAdjust="spacingAndGlyphs">выводы</tspan></text>
<text class="t" y="290.0"><tspan x="306.70" textLength="60.84" lengthAdjust="spacingAndGlyphs">Я строю</tspan></text>
<text class="t" y="311.0"><tspan x="277.70" textLength="123.36" lengthAdjust="spacingAndGlyphs">предположения</tspan></text>
<text class="t" y="332.8"><tspan x="246.20" textLength="183.10" lengthAdjust="spacingAndGlyphs">на основе добавленных</tspan></text>
<text class="t" y="353.0"><tspan x="281.95" textLength="110.85" lengthAdjust="spacingAndGlyphs">мной смыслов</tspan></text>
<text class="t" y="389.0"><tspan x="303.71" textLength="62.84" lengthAdjust="spacingAndGlyphs">Я вношу</tspan></text>
<text class="t" y="410.0"><tspan x="236.70" textLength="198.85" lengthAdjust="spacingAndGlyphs">дополнительные смыслы,</tspan></text>
<text class="t" y="431.5"><tspan x="261.45" textLength="145.60" lengthAdjust="spacingAndGlyphs">зависящие от моей</tspan></text>
<text class="t" y="452.5"><tspan x="255.70" textLength="160.35" lengthAdjust="spacingAndGlyphs">культуры и личности</tspan></text>
<text class="t" y="503.5"><tspan x="237.95" textLength="191.10" lengthAdjust="spacingAndGlyphs">Я выбираю информацию</tspan></text>
<text class="t" y="525.1"><tspan x="239.70" textLength="187.85" lengthAdjust="spacingAndGlyphs">из имеющихся «данных»</tspan></text>
<text class="t" y="582.1"><tspan x="234.20" textLength="187.85" lengthAdjust="spacingAndGlyphs">Наблюдаемые «данные»</tspan></text>
<text class="t" y="603.1"><tspan x="255.70" textLength="142.85" lengthAdjust="spacingAndGlyphs">и пережитый опыт</tspan></text>
<text class="t" y="624.1"><tspan x="246.95" textLength="161.35" lengthAdjust="spacingAndGlyphs">(как на видеозаписи)</tspan></text>
<text class="t" y="221.0"><tspan x="655.69" textLength="109.11" lengthAdjust="spacingAndGlyphs">Рефлексивная</tspan></text>
<text class="t" y="242.2"><tspan x="655.69" textLength="42.87" lengthAdjust="spacingAndGlyphs">петля</tspan></text>
<text class="t" y="263.5"><tspan x="654.94" textLength="46.36" lengthAdjust="spacingAndGlyphs">(наши</tspan></text>
<text class="t" y="284.8"><tspan x="655.95" textLength="83.34" lengthAdjust="spacingAndGlyphs">убеждения</tspan></text>
<text class="t" y="306.0"><tspan x="655.94" textLength="101.61" lengthAdjust="spacingAndGlyphs">влияют на то,</tspan></text>
<text class="t" y="327.2"><tspan x="655.96" textLength="40.84" lengthAdjust="spacingAndGlyphs">какую</tspan></text>
<text class="t" y="348.5"><tspan x="655.70" textLength="100.85" lengthAdjust="spacingAndGlyphs">информацию</tspan></text>
<text class="t" y="369.8"><tspan x="655.69" textLength="96.11" lengthAdjust="spacingAndGlyphs">мы выберем</tspan></text>
<text class="t" y="391.0"><tspan x="655.95" textLength="135.60" lengthAdjust="spacingAndGlyphs">в следующий раз)</tspan></text>
<text class="c" y="746.6"><tspan x="36.12" textLength="79.25" lengthAdjust="spacingAndGlyphs">Источник:</tspan> <tspan x="118.91" textLength="32.19" lengthAdjust="spacingAndGlyphs">Ross</tspan> <tspan x="154.19" textLength="14.41" lengthAdjust="spacingAndGlyphs">R.</tspan> <tspan x="170.45" textLength="25.10" lengthAdjust="spacingAndGlyphs">The</tspan> <tspan x="199.22" textLength="50.11" lengthAdjust="spacingAndGlyphs">Ladder</tspan> <tspan x="253.01" textLength="13.32" lengthAdjust="spacingAndGlyphs">of</tspan> <tspan x="269.71" textLength="63.84" lengthAdjust="spacingAndGlyphs">Inference</tspan> <tspan x="338.87" textLength="8.96" lengthAdjust="spacingAndGlyphs">//</tspan> <tspan x="353.07" textLength="40.85" lengthAdjust="spacingAndGlyphs">Senge</tspan> <tspan x="398.09" textLength="17.62" lengthAdjust="spacingAndGlyphs">P.,</tspan> <tspan x="419.21" textLength="46.61" lengthAdjust="spacingAndGlyphs">Kleiner</tspan> <tspan x="471.40" textLength="13.35" lengthAdjust="spacingAndGlyphs">A.</tspan> <tspan x="488.07" textLength="11.78" lengthAdjust="spacingAndGlyphs">et</tspan> <tspan x="504.69" textLength="16.68" lengthAdjust="spacingAndGlyphs">al.</tspan> <tspan x="523.44" textLength="26.61" lengthAdjust="spacingAndGlyphs">The</tspan> <tspan x="554.71" textLength="31.08" lengthAdjust="spacingAndGlyphs">Fifth</tspan> <tspan x="590.20" textLength="67.34" lengthAdjust="spacingAndGlyphs">Discipline</tspan> <tspan x="661.74" textLength="74.28" lengthAdjust="spacingAndGlyphs">Fieldbook.</tspan></text>
<text class="c" y="767.4"><tspan x="263.23" textLength="29.87" lengthAdjust="spacingAndGlyphs">New</tspan> <tspan x="298.43" textLength="35.13" lengthAdjust="spacingAndGlyphs">York:</tspan> <tspan x="337.70" textLength="79.62" lengthAdjust="spacingAndGlyphs">Doubleday,</tspan> <tspan x="422.45" textLength="35.35" lengthAdjust="spacingAndGlyphs">1994.</tspan> <tspan x="462.61" textLength="13.13" lengthAdjust="spacingAndGlyphs">P.</tspan> <tspan x="479.20" textLength="29.85" lengthAdjust="spacingAndGlyphs">243.</tspan></text>
</g>
</svg>
</body></html>
